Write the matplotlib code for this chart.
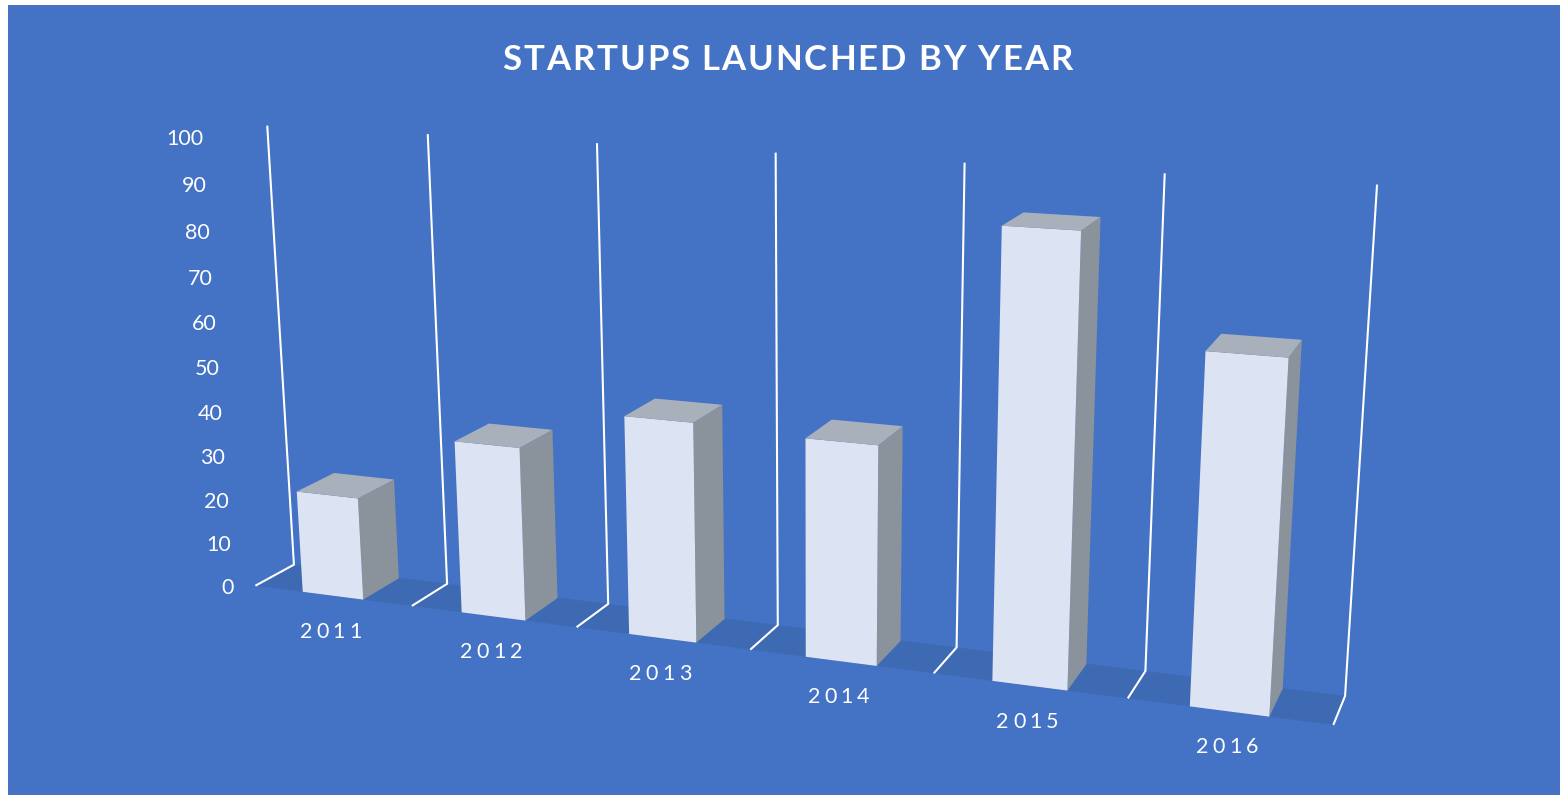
import numpy as np
import matplotlib
matplotlib.use("Agg")
import matplotlib.pyplot as plt
from matplotlib.patches import Rectangle
from matplotlib.text import Text
from matplotlib.transforms import IdentityTransform, ScaledTranslation
from matplotlib.font_manager import findfont, get_font
from matplotlib.ft2font import LoadFlags
from mpl_toolkits.mplot3d.art3d import Poly3DCollection, Line3DCollection

# ---- data ----
years = ["2011", "2012", "2013", "2014", "2015", "2016"]
startups = [23, 38, 47, 46, 91, 70]
value_ticks = [0, 10, 20, 30, 40, 50, 60, 70, 80, 90, 100]
title = "STARTUPS LAUNCHED BY YEAR"

# ---- picture geometry ----
W, H = 1562, 795
BG, FLOOR = "#4472C4", "#3E69B3"
FRONT, TOP, SIDE = "#DCE3F2", "#A8B0BC", "#8A929C"
BAR_LEFT, BAR_WIDTH, BAR_DEPTH = 0.308, 0.387, 0.98

# Camera calibration: where the plot box's edges fall on the picture
wall_top_px = [(267, 126), (428, 134), (597, 143), (776, 153), (964, 163), (1165, 173), (1377, 184)]
wall_base_px = [(294, 564), (447, 584), (608, 604), (778, 625), (957, 647), (1145, 671), (1345, 697)]
front_base_px = [(255, 586), (412, 606), (577, 627), (750, 650), (934, 673), (1128, 698), (1333, 725)]


def fit_camera():
    rows = []
    def add(X, uv):
        X = np.array([*X, 1.0])
        rows.append(np.r_[X, np.zeros(4), -uv[0] * X])
        rows.append(np.r_[np.zeros(4), X, -uv[1] * X])
    for i in range(7):
        add((i, 1, 100), wall_top_px[i])
        add((i, 1, 0), wall_base_px[i])
        add((i, 0, 0), front_base_px[i])
    A = np.array(rows)
    scale = np.array([1, 1, 0.01, 1] * 3) * np.array([1000] * 8 + [1] * 4)
    vt = np.linalg.svd(A / scale)[2]
    return (vt[-1] / scale).reshape(3, 4)


P = fit_camera()
cam_centre = np.linalg.svd(P)[2][-1]


def to_px(x, y, z):
    u = P @ np.array([x, y, z, 1.0])
    return u[0] / u[2], u[1] / u[2]


class TrackedText(Text):
    """Single text artist drawn with extra letter spacing (pixels)."""

    def __init__(self, *args, tracking=0.0, **kw):
        super().__init__(*args, **kw)
        self.tracking = tracking

    def draw(self, renderer):
        prop = self.get_fontproperties()
        font = get_font(findfont(prop))
        font.set_size(prop.get_size_in_points(), renderer.dpi)
        s = self.get_text()
        adv = [font.load_char(ord(c), flags=LoadFlags.NO_HINTING).linearHoriAdvance / 65536 for c in s]
        total = sum(adv) + self.tracking * (len(s) - 1)
        x, y = self.get_transform().transform(self.get_position())
        x -= total / 2
        gc = renderer.new_gc()
        gc.set_foreground(self.get_color())
        for c, a in zip(s, adv):
            renderer.draw_text(gc, x, H - y, c, prop, 0)
            x += a + self.tracking
        gc.restore()


fig = plt.figure(figsize=(W / 100, H / 100), dpi=100, facecolor="white")
fig.add_artist(Rectangle((8, 0), 1552, H - 5, transform=IdentityTransform(), fc=BG, ec="none", zorder=-5))

ax = fig.add_axes([0, 0, 1, 1], projection="3d", computed_zorder=False)
ax.apply_aspect = lambda position=None: None
ax.set_axis_off()
ax.patch.set_visible(False)


def camera_matrix():
    inv = ax.transData.inverted()
    o, ex, ey = inv.transform([[0, H], [W, H], [0, 0]])
    ax_, tx = (ex[0] - o[0]) / W, o[0]
    ay_, ty = (ey[1] - o[1]) / H, o[1]
    d = cam_centre / np.linalg.norm(cam_centre)
    return np.array([ax_ * P[0] + tx * P[2], ay_ * P[1] + ty * P[2], d, P[2]])


ax.get_proj = camera_matrix

n = len(years)
top = max(value_ticks)
floor = [[(0, 0, 0), (n, 0, 0), (n, 1, 0), (0, 1, 0)]]
ax.add_collection3d(Poly3DCollection(floor, facecolors=FLOOR, edgecolors="none", zorder=1))

grid = [[(i, 0, 0), (i, 1, 0), (i, 1, top)] for i in range(n + 1)]
ax.add_collection3d(Line3DCollection(grid, colors="white", linewidths=1.5, zorder=2,
                                     joinstyle="miter", capstyle="butt"))

clear = (0, 0, 0, 0)
rgba = matplotlib.colors.to_rgba
face_cols = [clear, rgba(TOP), rgba(FRONT), clear, clear, rgba(SIDE)]
for i, v in enumerate(startups):
    ax.bar3d(i + BAR_LEFT, 0, 0, BAR_WIDTH, BAR_DEPTH, v, color=face_cols, shade=False, zorder=3, edgecolor="none")

for v in value_ticks:
    px, py = to_px(-0.14, 0, v)
    fig.text(px, H - py - 5, str(v), ha="right", va="center", color="white", family="Lato", fontsize=15.5,
             transform=IdentityTransform())

offset = ScaledTranslation(0, -42 / 100, fig.dpi_scale_trans)
for i, label in enumerate(years):
    px, py = to_px(i + 0.5, 0, 0)
    fig.add_artist(TrackedText(px - 2, H - py, label, tracking=4.0, color="white", family="Lato", fontsize=15.5,
                               transform=IdentityTransform() + offset))

fig.add_artist(TrackedText(787.5, H - 70, title, tracking=1.9, color="white", family="Lato", weight="bold",
                           fontsize=25, transform=IdentityTransform()))

ax.set_xlim(0, n)
ax.set_ylim(0, 1)
ax.set_zlim(0, 100)
fig.savefig("out.png", dpi=100, facecolor="white")
